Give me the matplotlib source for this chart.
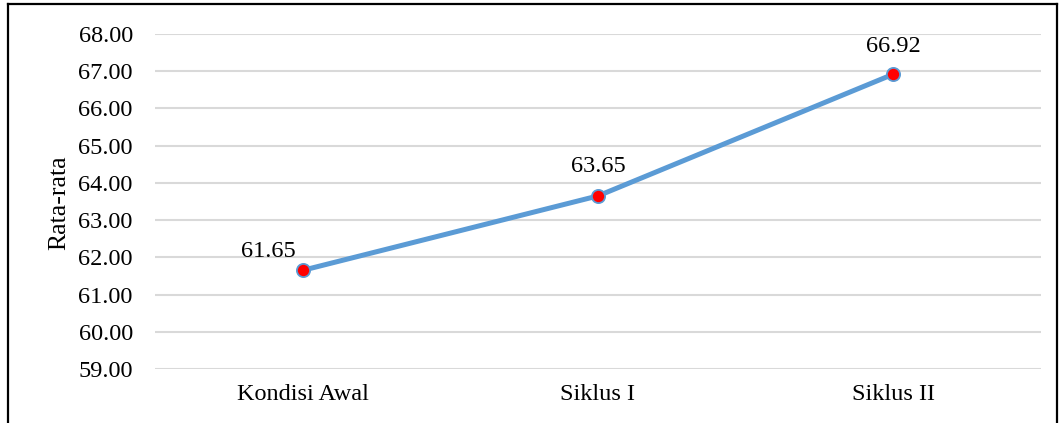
import matplotlib
matplotlib.use("Agg")
import matplotlib.pyplot as plt
from matplotlib.lines import Line2D

categories = ["Kondisi Awal", "Siklus I", "Siklus II"]
rata_rata = [61.65, 63.65, 66.92]
y_ticks = [59, 60, 61, 62, 63, 64, 65, 66, 67, 68]
# label offsets (points) relative to each marker
label_offsets = [(-24.5, 9.4), (0, 17.3), (0, 15.8)]

plt.rcParams["font.family"] = ["Liberation Serif", "DejaVu Serif"]

fig = plt.figure(figsize=(10.61, 4.23), dpi=100)
ax = fig.add_axes([0.1461, 0.1277, 0.835, 0.7919])

x = list(range(len(categories)))
ax.plot(x, rata_rata, color="#5B9BD5", linewidth=3.6, zorder=3,
        marker="o", markersize=9.5, markerfacecolor="#FF0000",
        markeredgecolor="#5B9BD5", markeredgewidth=1.3, solid_capstyle="round")

for xi, v, off in zip(x, rata_rata, label_offsets):
    ax.annotate(f"{v:.2f}", (xi, v), xytext=off, textcoords="offset points",
                ha="center", va="baseline", fontsize=17.5, color="#000000")

ax.set_xlim(-0.5, len(categories) - 0.5)
ax.set_ylim(y_ticks[0], y_ticks[-1])
ax.set_yticks(y_ticks)
ax.set_yticklabels([f"{t:.2f}" for t in y_ticks], fontsize=17.5)
ax.set_xticks(x)
ax.set_xticklabels(categories, fontsize=17.5)
ax.tick_params(axis="y", length=0, pad=16)
ax.tick_params(axis="x", length=0, pad=11)
ax.grid(axis="y", color="#D9D9D9", linewidth=1.5)
ax.set_axisbelow(True)
for s in ax.spines.values():
    s.set_visible(False)
ax.set_ylabel("Rata-rata", fontsize=18.5)
ax.yaxis.set_label_coords(-0.0955, 0.495)

# frame around the chart (open at the bottom)
W, H = 1061, 423
def fx(px):
    return px / W
def fy(py):
    return 1 - py / H
frame_kw = dict(color="#000000", linewidth=1.6, transform=fig.transFigure)
fig.add_artist(Line2D([fx(8), fx(8)], [fy(4), 0], **frame_kw))
fig.add_artist(Line2D([fx(8), fx(1057)], [fy(4), fy(4)], **frame_kw))
fig.add_artist(Line2D([fx(1057), fx(1057)], [fy(4), 0], **frame_kw))

fig.savefig("out.png", dpi=100)
